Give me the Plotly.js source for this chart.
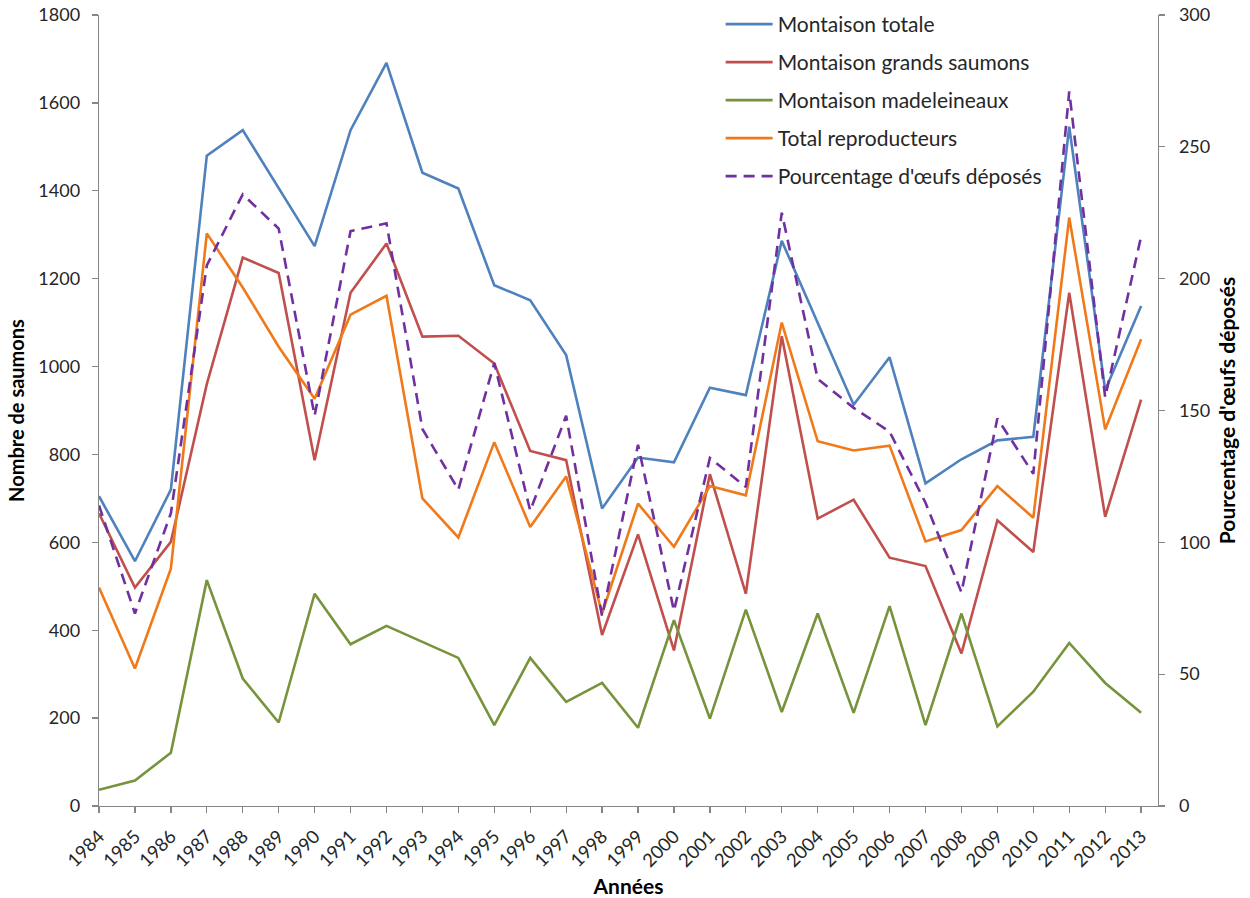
<!DOCTYPE html>
<html>
<head>
<meta charset="utf-8">
<script src="https://cdn.plot.ly/plotly-3.0.1.min.js"></script>
<style>html,body{margin:0;padding:0;background:#fff;}#chart{width:1250px;height:898px;}</style>
</head>
<body>
<div id="chart"></div>
<script>
const years = [1984,1985,1986,1987,1988,1989,1990,1991,1992,1993,1994,1995,1996,1997,1998,1999,2000,2001,2002,2003,2004,2005,2006,2007,2008,2009,2010,2011,2012,2013];
const tickLabels = years.map(String);
const montaisonTotale = [705,557,720,1480,1538,1405,1274,1538,1691,1441,1405,1185,1151,1026,677,793,782,952,935,1286,1100,913,1021,734,789,832,840,1546,946,1138];
const montaisonGrands = [666,497,601,960,1248,1213,787,1168,1280,1068,1070,1007,808,787,389,618,354,755,483,1069,654,697,565,546,347,650,578,1168,658,925];
const montaisonMadeleineaux = [37,58,121,514,290,190,483,368,410,373,337,184,337,237,280,178,423,199,447,214,438,212,455,184,438,181,260,371,280,212];
const totalReproducteurs = [497,313,540,1303,1180,1045,927,1118,1161,700,611,828,635,750,438,688,590,728,707,1100,830,809,820,602,628,728,656,1339,857,1062];
const pourcentageOeufs = [114,73,111,205,232,219,148,218,221,143,120,168,112,148,72,137,74,132,121,225,162,151,142,115,81,147,126,271,155,216];

const FONT = 'Lato, "Open Sans", sans-serif';
const AXIS = '#868686';
const TXT = '#262626';

const traces = [
  {name:'Montaison totale', y:montaisonTotale, color:'#4F81BD', dash:'solid', axis:'y'},
  {name:'Montaison grands saumons', y:montaisonGrands, color:'#C0504D', dash:'solid', axis:'y'},
  {name:'Montaison madeleineaux', y:montaisonMadeleineaux, color:'#77933C', dash:'solid', axis:'y'},
  {name:'Total reproducteurs', y:totalReproducteurs, color:'#F07A1A', dash:'solid', axis:'y'},
  {name:"Pourcentage d'œufs déposés", y:pourcentageOeufs, color:'#7030A0', dash:'11px,7px', axis:'y2'}
].map((t,i) => ({
  type:'scatter', mode:'lines', x:years, y:t.y, name:t.name, yaxis:t.axis,
  legendgroup:'g'+i,
  line:{color:t.color, width:2.6, dash:t.dash}
}));

const layout = {
  width:1250, height:898,
  margin:{l:99, r:92, t:15, b:92, autoexpand:false},
  paper_bgcolor:'#fff', plot_bgcolor:'#fff',
  font:{family:FONT, color:TXT},
  showlegend:true,
  legend:{x:0.587, xanchor:'left', y:1.014, yanchor:'top', bgcolor:'rgba(0,0,0,0)',
          font:{family:FONT, size:21, color:TXT}, itemwidth:47, tracegroupgap:7.7, traceorder:'grouped'},
  xaxis:{
    range:[1984, 2013.47], tickmode:'array', tickvals:years, ticktext:tickLabels,
    tickangle:-45, ticks:'outside', ticklen:6, tickcolor:AXIS, tickwidth:1.3,
    showline:true, linecolor:AXIS, linewidth:1.3, showgrid:false, zeroline:false,
    tickfont:{family:FONT, size:18.5, color:TXT}, ticklabelstandoff:5,
    title:{text:'<b>Années</b>', font:{family:FONT, size:21, color:'#000'}, standoff:10}
  },
  yaxis:{
    range:[0,1800], tickmode:'linear', tick0:0, dtick:200,
    ticks:'outside', ticklen:6, tickcolor:AXIS, tickwidth:1.3,
    showline:true, linecolor:AXIS, linewidth:1.3, showgrid:false, zeroline:false,
    tickfont:{family:FONT, size:18, color:TXT}, ticklabelstandoff:8,
    title:{text:'<b>Nombre de saumons</b>', font:{family:FONT, size:20, color:'#000'}, standoff:8}
  },
  yaxis2:{
    overlaying:'y', side:'right', range:[0,300], tickmode:'linear', tick0:0, dtick:50,
    ticks:'outside', ticklen:6, tickcolor:AXIS, tickwidth:1.3,
    showline:true, linecolor:AXIS, linewidth:1.3, showgrid:false, zeroline:false,
    tickfont:{family:FONT, size:18, color:TXT}, ticklabelstandoff:10,
    title:{text:"<b>Pourcentage d'œufs déposés</b>", font:{family:FONT, size:21, color:'#000'}, standoff:11}
  }
};

Plotly.newPlot('chart', traces, layout, {displayModeBar:false, staticPlot:true});
</script>
</body>
</html>
